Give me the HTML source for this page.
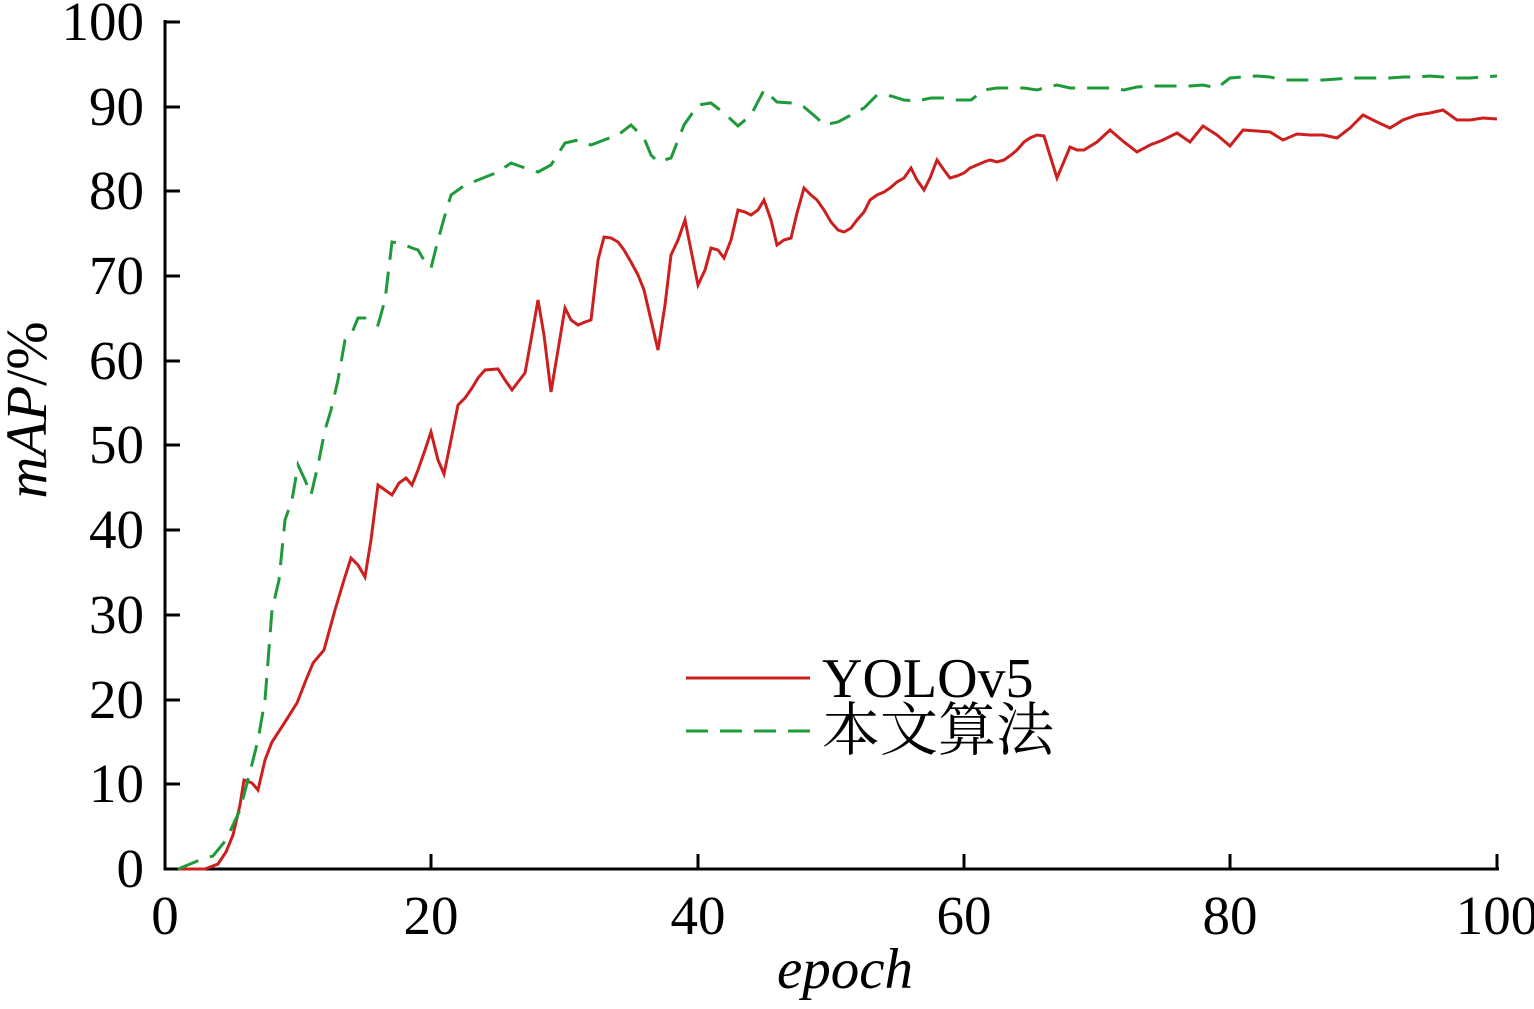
<!DOCTYPE html>
<html><head><meta charset="utf-8"><style>
html,body{margin:0;padding:0;background:#fff;}
svg text{font-family:"Liberation Serif","Noto Serif CJK SC",serif;fill:#000;}
</style></head><body>
<svg width="1534" height="1004" viewBox="0 0 1534 1004" xmlns="http://www.w3.org/2000/svg">
<g stroke="#000" stroke-width="3" fill="none">
<line x1="165" y1="20" x2="165" y2="870"/>
<line x1="164" y1="869" x2="1499" y2="869"/>
<line x1="165" y1="22" x2="180" y2="22"/>
<line x1="165" y1="107" x2="180" y2="107"/>
<line x1="165" y1="191" x2="180" y2="191"/>
<line x1="165" y1="276" x2="180" y2="276"/>
<line x1="165" y1="361" x2="180" y2="361"/>
<line x1="165" y1="445" x2="180" y2="445"/>
<line x1="165" y1="530" x2="180" y2="530"/>
<line x1="165" y1="615" x2="180" y2="615"/>
<line x1="165" y1="700" x2="180" y2="700"/>
<line x1="165" y1="784" x2="180" y2="784"/>
<line x1="431" y1="869" x2="431" y2="854"/>
<line x1="698" y1="869" x2="698" y2="854"/>
<line x1="964" y1="869" x2="964" y2="854"/>
<line x1="1230" y1="869" x2="1230" y2="854"/>
<line x1="1497" y1="869" x2="1497" y2="854"/>
</g>
<g font-size="55" text-anchor="end">
<text x="144" y="40">100</text><text x="144" y="125">90</text><text x="144" y="209">80</text>
<text x="144" y="294">70</text><text x="144" y="379">60</text><text x="144" y="463">50</text>
<text x="144" y="548">40</text><text x="144" y="633">30</text><text x="144" y="718">20</text>
<text x="144" y="802">10</text><text x="144" y="887">0</text>
</g>
<g font-size="55" text-anchor="middle">
<text x="165" y="934">0</text><text x="431" y="934">20</text><text x="698" y="934">40</text>
<text x="964" y="934">60</text><text x="1230" y="934">80</text><text x="1497" y="934">100</text>
</g>
<text x="845" y="988" font-size="57" font-style="italic" text-anchor="middle">epoch</text>
<text transform="translate(46,410) rotate(-90)" font-size="58" text-anchor="middle"><tspan font-style="italic">mAP</tspan>/%</text>
<polyline fill="none" stroke="#cc1f1f" stroke-width="3" points="178,869 205,869 218,864 226,852 233,835 240,805 244,780 252,783 258,790 265,760 272,742 285,722 297,703 306,680 313,663 324,650 335,610 344,580 351,558 358,565 365,577 371,540 378,485 385,490 392,495 399,483 406,478 412,485 418,470 425,450 431,432 438,460 444,474 451,440 458,405 465,398 472,388 478,378 485,370 498,369 505,380 512,390 518,382 525,373 531,340 538,300 544,335 551,392 558,350 565,308 571,320 578,325 585,322 591,320 598,260 604,237 611,238 618,242 624,250 631,262 638,275 644,290 651,320 658,350 665,305 671,255 678,240 685,220 691,250 698,285 705,270 711,248 718,250 724,258 731,240 738,210 745,212 751,215 758,210 764,200 771,220 777,245 784,240 791,238 797,213 804,188 811,195 817,200 824,210 831,222 838,230 844,232 851,228 857,220 864,212 870,200 877,195 884,192 890,188 897,182 904,178 911,168 917,180 924,190 930,178 937,160 944,170 950,178 957,176 964,173 970,168 977,165 984,162 990,160 997,162 1004,160 1011,155 1017,150 1024,142 1030,138 1037,135 1044,136 1057,178 1070,147 1077,150 1084,150 1097,142 1110,130 1124,142 1137,152 1150,145 1163,140 1177,133 1190,142 1203,126 1217,135 1230,146 1243,130 1257,131 1270,132 1283,140 1297,134 1310,135 1323,135 1337,138 1350,128 1363,115 1377,122 1390,128 1403,120 1417,115 1430,113 1443,110 1457,120 1470,120 1483,118 1497,119"/>
<polyline fill="none" stroke="#1f9a3a" stroke-width="3" stroke-dasharray="22,12" points="178,869 200,860 213,856 226,840 240,810 250,772 258,740 265,700 272,610 279,580 285,520 292,500 298,465 305,480 311,495 318,465 325,430 331,410 338,380 345,340 351,335 358,318 365,318 372,322 378,325 385,300 392,242 399,243 405,245 412,248 418,250 425,262 431,268 438,240 445,215 451,195 458,190 465,185 478,180 498,172 511,163 525,168 538,172 551,165 565,143 578,140 591,145 604,140 618,135 631,125 644,138 651,155 658,162 671,158 684,125 698,105 711,103 724,113 738,126 751,115 764,90 777,102 791,103 804,107 817,118 824,125 838,122 851,115 864,108 877,95 891,96 904,100 917,101 931,98 944,98 957,100 971,100 984,90 997,88 1011,88 1024,88 1037,90 1044,88 1057,85 1070,88 1084,88 1097,88 1110,88 1124,90 1137,87 1150,86 1163,86 1177,86 1190,86 1203,85 1217,88 1230,78 1243,77 1257,76 1270,77 1283,80 1297,80 1310,80 1323,80 1337,79 1350,78 1363,78 1377,78 1390,78 1403,77 1417,77 1430,76 1443,77 1457,78 1470,78 1483,77 1497,76"/>
<line x1="686" y1="678" x2="810" y2="678" stroke="#cc1f1f" stroke-width="3"/>
<line x1="686" y1="731" x2="810" y2="731" stroke="#1f9a3a" stroke-width="3" stroke-dasharray="22,12"/>
<text x="822" y="697" font-size="56">YOLOv5</text>
<text x="822" y="750" font-size="58">本文算法</text>
</svg>
</body></html>
